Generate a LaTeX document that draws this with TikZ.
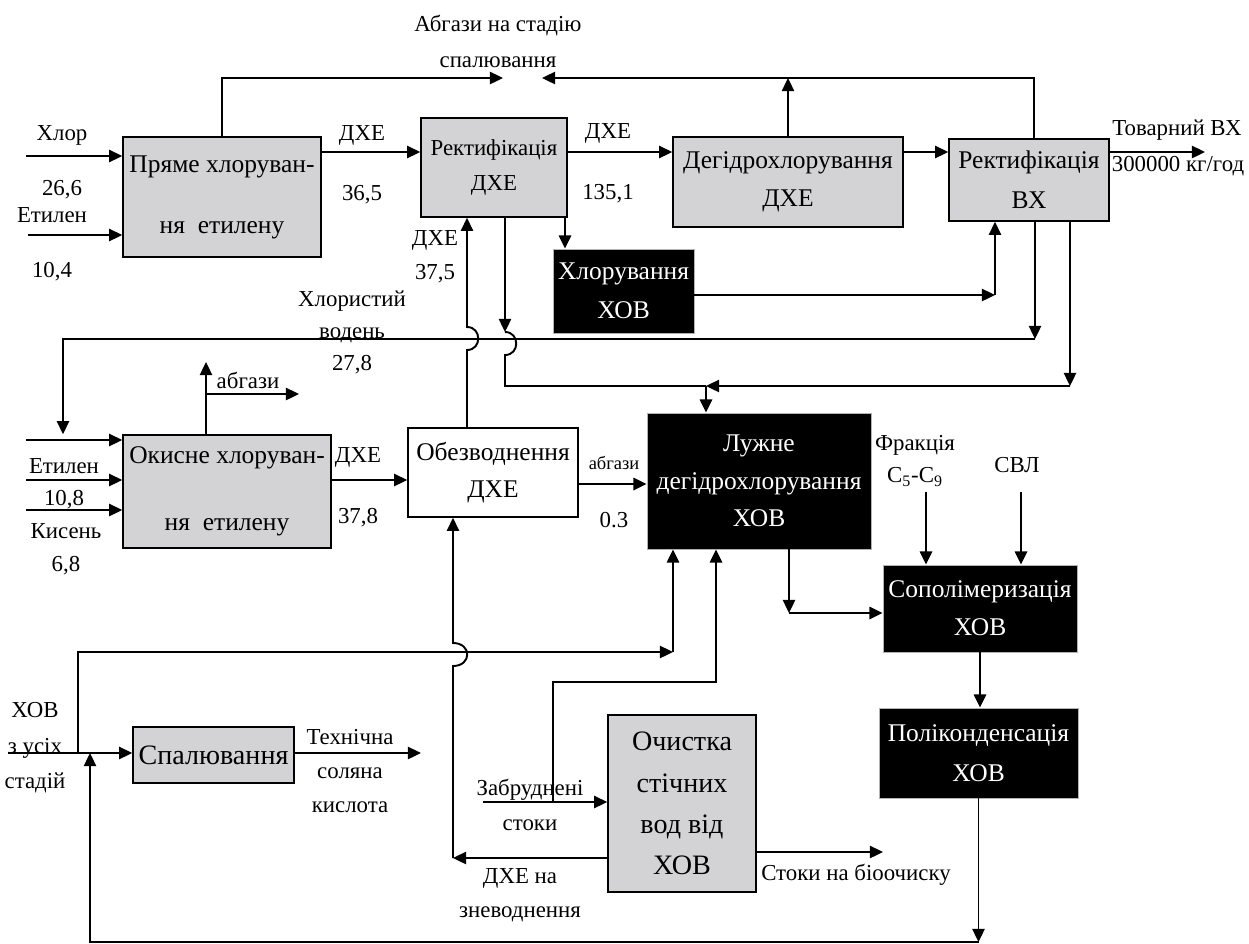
\documentclass[tikz,border=0pt]{standalone}
\usepackage{fontspec}
\setmainfont{Liberation Serif}
\usetikzlibrary{arrows.meta, positioning, calc}

\definecolor{procgray}{RGB}{211,210,212}

\begin{document}
\begin{tikzpicture}[
    x=0.02cm, y=-0.02cm,
    >={Triangle[length=7.5pt, width=7pt]},
    line width=1.1pt,
    proc/.style={
        rectangle, draw, line width=0.9pt, fill=procgray,
        inner sep=0pt, align=center,
        font=\fontsize{14.5}{21.5}\selectfont
    },
    hot/.style={
        rectangle, draw=gray!60, line width=0.5pt, fill=black, text=white,
        inner sep=0pt, align=center,
        font=\fontsize{14.5}{21.5}\selectfont
    },
    lbl/.style={font=\fontsize{13}{20}\selectfont, align=center, inner sep=0pt},
    sml/.style={font=\fontsize{10.5}{12}\selectfont, inner sep=0pt}
]
\useasboundingbox (0,0) rectangle (1249,944);

% process blocks
\node[proc, minimum width=3.96cm, minimum height=2.4cm, font=\fontsize{14.5}{34.7}\selectfont]
    (pryame) at (222,197) {Пряме хлоруван-\\ня~~етилену};
\node[proc, minimum width=2.92cm, minimum height=1.98cm, font=\fontsize{13}{20}\selectfont]
    (rectDXE) at (494,167.5) {Ректифікація\\ДХЕ};
\node[proc, minimum width=4.6cm, minimum height=1.8cm]
    (degidro) at (788,182) {Дегідрохлорування\\ДХЕ};
\node[proc, minimum width=3.2cm, minimum height=1.64cm, font=\fontsize{14.5}{22.8}\selectfont]
    (rectVX) at (1029,180) {Ректифікація\\ВХ};
\node[hot, minimum width=2.82cm, minimum height=1.68cm, font=\fontsize{14.5}{22}\selectfont]
    (khlorXOB) at (623.5,291) {Хлорування\\ХОВ};
\node[proc, minimum width=4.16cm, minimum height=2.26cm, font=\fontsize{14.5}{38}\selectfont]
    (okysne) at (227,491.5) {Окисне хлоруван-\\ня~~етилену};
\node[proc, fill=white, minimum width=3.4cm, minimum height=1.78cm]
    (obezvod) at (493,472.5) {Обезводнення\\ДХЕ};
\node[hot, minimum width=4.48cm, minimum height=2.72cm]
    (luzhne) at (759,481) {Лужне\\дегідрохлорування\\ХОВ};
\node[hot, minimum width=3.88cm, minimum height=1.74cm]
    (sopolim) at (980,608.5) {Сополімеризація\\ХОВ};
\node[hot, minimum width=3.98cm, minimum height=1.8cm, font=\fontsize{14.5}{22.8}\selectfont]
    (polikond) at (978.5,753) {Поліконденсація\\ХОВ};
\node[proc, minimum width=3.22cm, minimum height=1.12cm, font=\fontsize{16}{20}\selectfont]
    (spal) at (213.5,755) {Спалювання};
\node[proc, minimum width=2.96cm, minimum height=3.54cm, font=\fontsize{16}{23.5}\selectfont]
    (ochystka) at (682,803.5) {Очистка\\стічних\\вод від\\ХОВ};

% stream labels
\node[lbl, font=\fontsize{13}{20.5}\selectfont] (lAbgTop) at (498,41) {Абгази на стадію\\спалювання};
\node[lbl] (lClor)  at (62,135)  {Хлор};
\node[lbl] (lClorQ) at (62,190)  {26,6};
\node[lbl] (lEt)    at (52,215)  {Етилен};
\node[lbl] (lEtQ)   at (52,272)  {10,4};
\node[lbl] (lDxe1)  at (362,135) {ДХЕ};
\node[lbl] (lDxe1Q) at (362,195) {36,5};
\node[lbl] (lDxe2)  at (608,133) {ДХЕ};
\node[lbl] (lDxe2Q) at (608,194) {135,1};
\node[lbl] (lTov)   at (1177,130) {Товарний ВХ};
\node[lbl] (lTovQ)  at (1178,166) {300000 кг/год};
\node[lbl, font=\fontsize{13}{19.4}\selectfont] (lDxe3) at (435,257) {ДХЕ\\37,5};
\node[lbl, font=\fontsize{13}{18.2}\selectfont] (lHcl) at (352,332) {Хлористий\\водень\\27,8};
\node[lbl] (lEt2)   at (64,466)  {Етилен};
\node[lbl] (lEt2Q)  at (64,500)  {10,8};
\node[lbl] (lKys)   at (66,531)  {Кисень};
\node[lbl] (lKysQ)  at (66,566)  {6,8};
\node[lbl] (lAbgOx) at (248,380) {абгази};
\node[lbl] (lDxe4)  at (358,457) {ДХЕ};
\node[lbl] (lDxe4Q) at (358,518) {37,8};
\node[sml] (lAbgOb) at (614,463) {абгази};
\node[lbl] (lAbgObQ) at (614,520) {0.3};
\node[lbl, font=\fontsize{13}{18.2}\selectfont] (lFrac) at (915,461) {Фракція\\C\textsubscript{5}-C\textsubscript{9}};
\node[lbl] (lSvl)   at (1017,465) {СВЛ};
\node[lbl, font=\fontsize{13}{20.2}\selectfont] (lXov) at (35,748) {ХОВ\\з усіх\\стадій};
\node[lbl, font=\fontsize{13}{19.3}\selectfont] (lTekh) at (350,771) {Технічна\\соляна\\кислота};
\node[lbl] (lZab) at (530,805) {Забруднені\\стоки};
\node[lbl, font=\fontsize{13}{19.4}\selectfont] (lDzn) at (520,895) {ДХЕ на\\зневоднення};
\node[lbl] (lStoki) at (856,875) {Стоки на біоочиску};

% free ends, bends and lanes
\coordinate (inCl)   at (26,156);
\coordinate (inEt)   at (28,235);
\coordinate (mainY)  at (0,152);
\coordinate (abgL)   at (503,78);
\coordinate (abgR)   at (542,78);
\coordinate (abgTop) at (1034,78);
\coordinate (outVX)  at (1205,152);
\coordinate (toKhl)  at (565,0);
\coordinate (jKhl)   at (995,295);
\coordinate (hclR)   at (1035,339);
\coordinate (hclL)   at (63,339);
\coordinate (resR)   at (1070,386);
\coordinate (resM)   at (706,386);
\coordinate (resL)   at (505,386);
\coordinate (up467)  at (467,0);
\coordinate (inOx1)  at (26,440);
\coordinate (inOx2)  at (26,480);
\coordinate (inOx3)  at (26,510);
\coordinate (abgOx)  at (206,362);
\coordinate (abgOxR) at (299,394);
\coordinate (abgY)   at (0,484);
\coordinate (inFr)   at (926,492);
\coordinate (inSvl)  at (1021,492);
\coordinate (luzOut) at (789,613);
\coordinate (inXov)  at (8,753);
\coordinate (outHcl) at (421,753);
\coordinate (recy)   at (78,652);
\coordinate (luzIn1) at (673,0);
\coordinate (luzIn2) at (716,0);
\coordinate (zabUp)  at (553,682);
\coordinate (inZab)  at (483,802);
\coordinate (dzn)    at (453,858);
\coordinate (outSt)  at (883,852);
\coordinate (retB)   at (90,942);

% direct chlorination line
\draw[->] (inCl) -- (inCl -| pryame.west);
\draw[->] (inEt) -- (inEt -| pryame.west);
\draw[->] (pryame.east |- mainY) -- (rectDXE.west |- mainY);
\draw[->] (rectDXE.east |- mainY) -- (degidro.west |- mainY);
\draw[->] (degidro.east |- mainY) -- (rectVX.west |- mainY);
\draw[->] (rectVX.east |- mainY) -- (outVX);

% off-gases to incineration
\draw[->] (pryame.north) |- (abgL);
\draw[->] (rectVX.north -| abgTop) |- (abgR);
\draw[->] (degidro.north) -- (degidro.north |- abgR);

% chlorinated by-products
\draw[->] (rectDXE.south -| toKhl) -- (khlorXOB.north -| toKhl);
\draw[->] (khlorXOB.east |- jKhl) -- (jKhl);
\draw[->] (jKhl) -- (jKhl |- rectVX.south);

% hydrogen chloride recycle
\draw[->] (rectVX.south -| hclR) -- (hclR);
\draw[->] (hclR) -- (hclL) -- (hclL |- okysne.north);

% residues to alkaline dehydrochlorination
\draw[->] (rectVX.south -| resR) -- (resR);
\draw[->] (resR) -- (resM);
\draw[->] (resM) -- (resM |- luzhne.north);
\draw[->] (rectDXE.south -| resL) -- ($(resL |- hclR)+(0,-7)$);
\draw ($(resL |- hclR)+(0,-7)$) .. controls +(15,0) and +(15,0) .. ($(resL |- hclR)+(0,16)$)
    -- (resL) -- (resM);

% oxychlorination
\draw[->] (inOx1) -- (inOx1 -| okysne.west);
\draw[->] (inOx2) -- (inOx2 -| okysne.west);
\draw[->] (inOx3) -- (inOx3 -| okysne.west);
\draw[->] (okysne.north -| abgOx) -- (abgOx);
\draw[->] (abgOx |- abgOxR) -- (abgOxR);
\draw[->] (okysne.east |- inOx2) -- (obezvod.west |- inOx2);
\draw[->] (obezvod.east |- abgY) -- (luzhne.west |- abgY);
\draw[->] (obezvod.north -| up467) -- ($(up467 |- hclR)+(0,11)$)
    .. controls +(15,0) and +(15,0) .. ($(up467 |- hclR)+(0,-12)$)
    -- (rectDXE.south -| up467);

% copolymerisation and polycondensation
\draw[->] (inFr) -- (inFr |- sopolim.north);
\draw[->] (inSvl) -- (inSvl |- sopolim.north);
\draw[->] (luzhne.south -| luzOut) -- (luzOut);
\draw[->] (luzOut) -- (luzOut -| sopolim.west);
\draw[->] (sopolim.south) -- (sopolim.south |- polikond.north);
\draw[->] (polikond.south) -- (polikond.south |- retB);
\draw[->] (polikond.south |- retB) -- (retB) -- (retB |- inXov);

% incineration and waste water
\draw[->] (inXov) -- (inXov -| spal.west);
\draw[->] (spal.east |- outHcl) -- (outHcl);
\draw[->] (recy |- inXov) -- (recy) -- (luzIn1 |- recy);
\draw[->] (luzIn1 |- recy) -- (luzhne.south -| luzIn1);
\draw[->] (inZab) -- (inZab -| ochystka.west);
\draw[->] (zabUp |- inZab) -- (zabUp) -- (luzIn2 |- zabUp) -- (luzhne.south -| luzIn2);
\draw[->] (ochystka.west |- dzn) -- (dzn);
\draw[->] (dzn) -- ($(dzn |- recy)+(0,14)$)
    .. controls +(19,0) and +(19,0) .. ($(dzn |- recy)+(0,-9)$)
    -- (obezvod.south -| dzn);
\draw[->] (ochystka.east |- outSt) -- (outSt);

\end{tikzpicture}
\end{document}
